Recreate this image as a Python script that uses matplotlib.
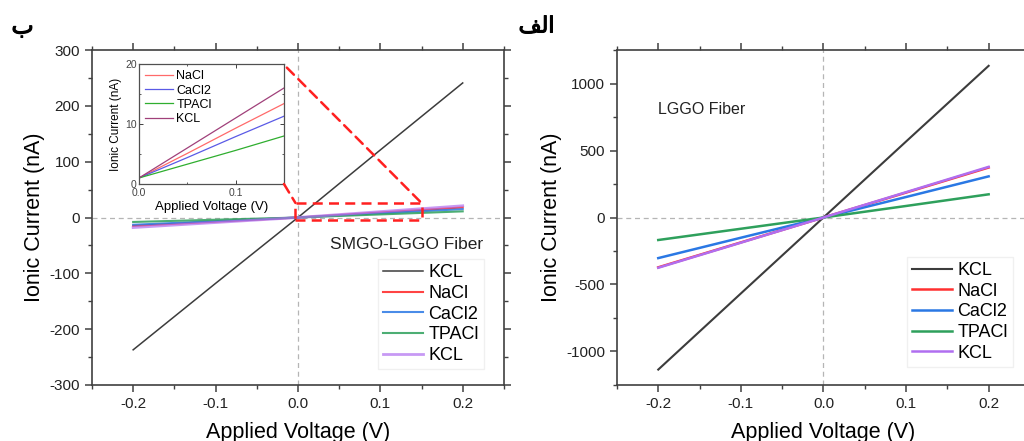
"""Ionic current vs applied voltage for SMGO-LGGO and LGGO fibers."""

import matplotlib
matplotlib.use("Agg")
import matplotlib.pyplot as plt
from matplotlib.patches import ConnectionPatch, Rectangle
from matplotlib.ticker import MultipleLocator
import matplotlib.patheffects as pe

# --- data ---
voltage = [-0.2, -0.1, 0.0, 0.1, 0.2]
labels = ["KCL", "NaCl", "CaCl2", "TPACl", "KCL"]

# panel b: SMGO-LGGO fiber
smgo_kcl = [-237, -118, 0, 121, 241]
smgo_nacl = [-15, -7.5, 0, 9, 18]
smgo_cacl2 = [-13, -6.5, 0, 7.5, 15]
smgo_tpacl = [-8, -4, 0, 5.5, 11]
smgo_kcl2 = [-18, -9, 0, 10.5, 21]

# inset of panel b
inset_voltage = [0.0, 0.05, 0.1, 0.15]
inset_nacl = [1.0, 5.1, 9.3, 13.4]
inset_cacl2 = [1.0, 4.4, 7.9, 11.3]
inset_tpacl = [1.0, 3.3, 5.6, 8.0]
inset_kcl = [1.0, 6.0, 11.0, 16.0]
inset_labels = ["NaCl", "CaCl2", "TPACl", "KCL"]

# panel alef: LGGO fiber
lggo_kcl = [-1135, -567, 0, 567, 1132]
lggo_nacl = [-372, -186, 0, 186, 373]
lggo_cacl2 = [-303, -151, 0, 153, 307]
lggo_tpacl = [-168, -84, 0, 86, 173]
lggo_kcl2 = [-375, -188, 0, 189, 378]

colors = ["#3c3c3c", "#ff3030", "#2a78e4", "#2ea05c", "#b06ef0"]
inset_colors = ["#ff6a6a", "#5a5ae6", "#2fae2f", "#a0407a"]

plt.rcParams.update({
    "font.family": ["Liberation Sans", "DejaVu Sans"],
    "axes.unicode_minus": False,
    "axes.edgecolor": "#404040",
    "axes.linewidth": 1.2,
    "xtick.color": "#404040",
    "ytick.color": "#404040",
    "xtick.labelcolor": "#222222",
    "ytick.labelcolor": "#222222",
})


def style_axes(ax, ymajor, yminor):
    ax.set_xlim(-0.25, 0.25)
    ax.xaxis.set_major_locator(MultipleLocator(0.1))
    ax.xaxis.set_minor_locator(MultipleLocator(0.05))
    ax.yaxis.set_major_locator(MultipleLocator(ymajor))
    ax.yaxis.set_minor_locator(MultipleLocator(yminor))
    ax.tick_params(which="both", top=True, right=True, labelsize=11)
    ax.tick_params(which="major", length=5, width=1.1)
    ax.tick_params(which="minor", length=3, width=1.0)
    ax.axhline(0, color="#b5b5b5", linestyle=(0, (4, 3)), linewidth=0.9, zorder=0)
    ax.axvline(0, color="#b5b5b5", linestyle=(0, (4, 3)), linewidth=0.9, zorder=0)
    ax.set_xlabel("Applied Voltage (V)", fontsize=15.5, labelpad=8)
    ax.set_ylabel("Ionic Current (nA)", fontsize=15.5, labelpad=3)
    fmt = lambda v, p: f"{v:.1f}".replace("-0.0", "0.0")
    ax.xaxis.set_major_formatter(plt.FuncFormatter(fmt))


fig = plt.figure(figsize=(10.24, 4.41), dpi=100)

# ---------------- panel b ----------------
ax1 = fig.add_axes([0.0898, 0.127, 0.4023, 0.7596])
series1 = [smgo_kcl, smgo_nacl, smgo_cacl2, smgo_tpacl, smgo_kcl2]
widths1 = [1.1, 1.5, 1.5, 1.5, 2.0]
alphas1 = [1.0, 0.9, 0.85, 0.85, 0.7]
for y, c, lab, lw, a in zip(series1, colors, labels, widths1, alphas1):
    ax1.plot(voltage, y, color=c, linewidth=lw, alpha=a, label=lab)
ax1.set_ylim(-300, 300)
style_axes(ax1, 100, 50)
ax1.text(0.578, 0.418, "SMGO-LGGO Fiber", transform=ax1.transAxes,
         fontsize=12.5, va="center", ha="left", color="#222222")
ax1.legend(loc="upper left", bbox_to_anchor=(0.672, 0.403), fontsize=13,
           handlelength=2.2, handletextpad=0.3, labelspacing=0.2,
           borderpad=0.3, fancybox=False, edgecolor="#f0f0f0", framealpha=1)

# zoom box and connectors
box = Rectangle((-0.003, -4), 0.153, 30, fill=False, edgecolor="#ff2020",
                linestyle=(0, (4, 2.5)), linewidth=1.8, zorder=5)
ax1.add_patch(box)

# inset
axin = fig.add_axes([0.1357, 0.5828, 0.1416, 0.272])
for y, c, lab in zip([inset_nacl, inset_cacl2, inset_tpacl, inset_kcl], inset_colors, inset_labels):
    axin.plot(inset_voltage, y, color=c, linewidth=0.9, label=lab)
axin.set_xlim(0, 0.15)
axin.set_ylim(0, 20)
axin.xaxis.set_major_locator(MultipleLocator(0.1))
axin.xaxis.set_minor_locator(MultipleLocator(0.05))
axin.yaxis.set_major_locator(MultipleLocator(10))
axin.yaxis.set_minor_locator(MultipleLocator(5))
axin.tick_params(which="both", labelsize=7.5, top=True, right=True, direction="in",
                 labelcolor="#444444")
axin.tick_params(axis="x", pad=3)
axin.tick_params(axis="y", pad=1.5)
axin.tick_params(which="major", length=3, width=0.7)
axin.tick_params(which="minor", length=1.5, width=0.6)
for s in axin.spines.values():
    s.set_linewidth(0.9)
    s.set_color("#505050")
axin.xaxis.set_major_formatter(plt.FuncFormatter(lambda v, p: f"{v:.1f}"))
axin.set_xlabel("Applied Voltage (V)", fontsize=9.5, labelpad=2)
axin.set_ylabel("Ionic Current (nA)", fontsize=8.5, labelpad=2)
axin.legend(loc="upper left", fontsize=9, handlelength=2.2, handletextpad=0.3,
            labelspacing=0.18, borderpad=0.3, borderaxespad=0.2,
            fancybox=False, frameon=False)

for xa, xb in [((1.02, 0.97), (0.15, 26)), ((1.0, 0.0), (-0.003, 26))]:
    con = ConnectionPatch(xyA=xa, coordsA=axin.transAxes, xyB=xb, coordsB=ax1.transData,
                          color="#ff2020", linestyle=(0, (4, 2.5)), linewidth=1.8)
    fig.add_artist(con)

# ---------------- panel alef ----------------
ax2 = fig.add_axes([0.6025, 0.127, 0.4033, 0.7596])
series2 = [lggo_kcl, lggo_nacl, lggo_cacl2, lggo_tpacl, lggo_kcl2]
widths2 = [1.5, 1.8, 1.8, 1.8, 1.8]
for y, c, lab, lw in zip(series2, colors, labels, widths2):
    ax2.plot(voltage, y, color=c, linewidth=lw, label=lab)
ax2.set_ylim(-1250, 1250)
style_axes(ax2, 500, 250)
ax2.text(0.099, 0.821, "LGGO Fiber", transform=ax2.transAxes,
         fontsize=11.5, va="center", ha="left", color="#222222")
ax2.legend(loc="upper left", bbox_to_anchor=(0.68, 0.41), fontsize=13,
           handlelength=2.2, handletextpad=0.3, labelspacing=0.2,
           borderpad=0.3, fancybox=False, edgecolor="#f0f0f0", framealpha=1)

# panel letters (Arabic)
halo = [pe.withStroke(linewidth=0.8, foreground="black")]
fig.text(0.022, 0.94, "ب", family="DejaVu Sans", fontsize=17, ha="center",
         va="center", path_effects=halo)
fig.text(0.524, 0.94, "\ufed2\ufedf\ufe8d", family="DejaVu Sans", fontsize=16,
         ha="center", va="center", path_effects=halo)

fig.savefig("out.png", dpi=100)
